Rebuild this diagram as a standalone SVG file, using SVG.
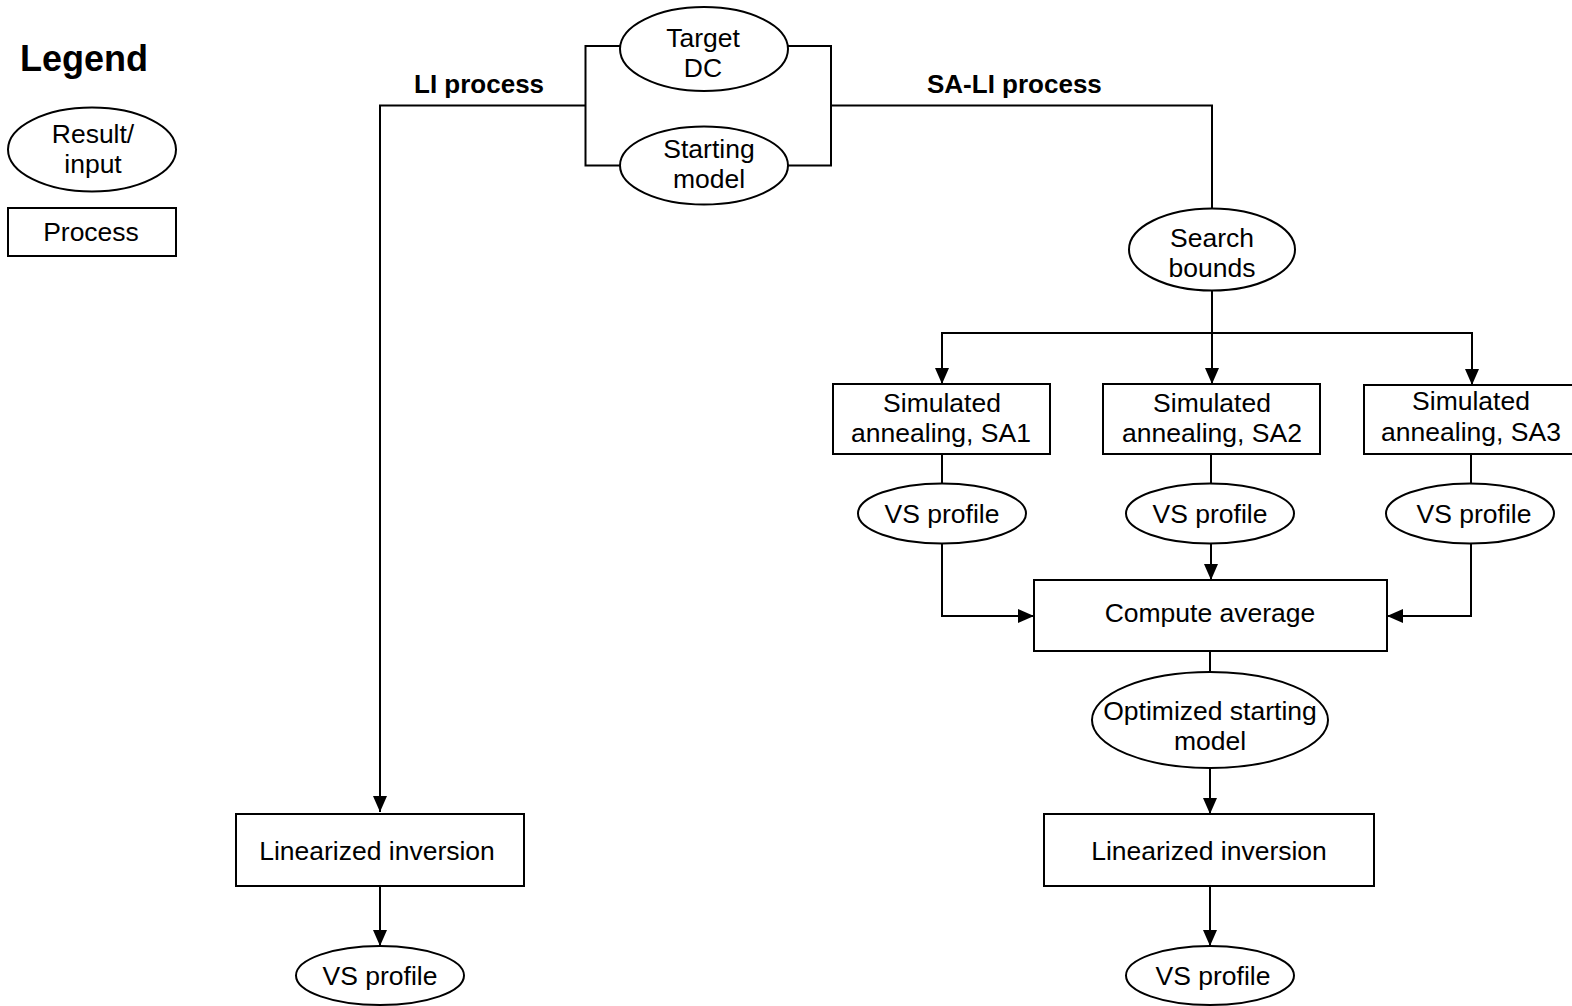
<svg xmlns="http://www.w3.org/2000/svg" width="1572" height="1006" viewBox="0 0 1572 1006">
<style>
.n{fill:#fff;stroke:#000;stroke-width:2}
.t{font-family:"Liberation Sans",Arial,sans-serif;font-size:26.5px;fill:#000;text-anchor:middle}
.b{font-family:"Liberation Sans",Arial,sans-serif;font-size:26px;font-weight:bold;fill:#000}
.c{fill:none;stroke:#000;stroke-width:2}
</style>
<defs>
<marker id="ah" viewBox="0 0 16 14" refX="16" refY="7" markerWidth="16" markerHeight="14" markerUnits="userSpaceOnUse" orient="auto">
<path d="M0,0 L16,7 L0,14 z" fill="#000"/>
</marker>
</defs>
<rect width="1572" height="1006" fill="#fff"/>
<g id="legend">
<text x="20" y="71" font-family="Liberation Sans,Arial,sans-serif" font-size="36" font-weight="bold">Legend</text>
<ellipse class="n" cx="92" cy="149.5" rx="84" ry="42"/>
<text class="t" x="93" y="143">Result/</text>
<text class="t" x="93" y="173">input</text>
<rect class="n" x="8" y="208" width="168" height="48"/>
<text class="t" x="91" y="241">Process</text>
</g>
<g id="labels">
<text class="b" x="414" y="93">LI process</text>
<text class="b" x="927" y="93">SA-LI process</text>
</g>
<g id="connectors">
<path class="c" d="M622,46 H585.5 V165.5 H621"/>
<path class="c" d="M787,46 H831 V165.5 H787"/>
<path class="c" d="M585.5,105.5 H380 V812" marker-end="url(#ah)"/>
<path class="c" d="M831,105.5 H1212 V208.5"/>
<path class="c" d="M1212,291 V384" marker-end="url(#ah)"/>
<path class="c" d="M1212,333 H942 V384" marker-end="url(#ah)"/>
<path class="c" d="M1212,333 H1472 V385" marker-end="url(#ah)"/>
<path class="c" d="M942,454 V483.5"/>
<path class="c" d="M1211,454 V483.5"/>
<path class="c" d="M1471,454 V483.5"/>
<path class="c" d="M942,543.5 V616 H1034" marker-end="url(#ah)"/>
<path class="c" d="M1211,543.5 V580" marker-end="url(#ah)"/>
<path class="c" d="M1471,543.5 V616 H1387" marker-end="url(#ah)"/>
<path class="c" d="M1210,651 V672"/>
<path class="c" d="M1210,768 V814" marker-end="url(#ah)"/>
<path class="c" d="M1210,886 V946" marker-end="url(#ah)"/>
<path class="c" d="M380,886 V946" marker-end="url(#ah)"/>
</g>
<g id="target-dc">
<ellipse class="n" cx="704" cy="49" rx="84" ry="42"/>
<text class="t" x="703" y="47">Target</text>
<text class="t" x="703" y="77">DC</text>
</g>
<g id="starting-model">
<ellipse class="n" cx="704" cy="165.5" rx="84" ry="39"/>
<text class="t" x="709" y="157.5">Starting</text>
<text class="t" x="709" y="187.5">model</text>
</g>
<g id="search-bounds">
<ellipse class="n" cx="1212" cy="249.5" rx="83" ry="41"/>
<text class="t" x="1212" y="246.5">Search</text>
<text class="t" x="1212" y="276.5">bounds</text>
</g>
<g id="sa1">
<rect class="n" x="833" y="384" width="217" height="70"/>
<text class="t" x="942" y="412">Simulated</text>
<text class="t" x="941" y="442">annealing, SA1</text>
</g>
<g id="sa2">
<rect class="n" x="1103" y="384" width="217" height="70"/>
<text class="t" x="1212" y="412">Simulated</text>
<text class="t" x="1212" y="442">annealing, SA2</text>
</g>
<g id="sa3">
<rect class="n" x="1364" y="385" width="214" height="69"/>
<text class="t" x="1471" y="410">Simulated</text>
<text class="t" x="1471" y="441">annealing, SA3</text>
</g>
<g id="vs1">
<ellipse class="n" cx="942" cy="513.5" rx="84" ry="30"/>
<text class="t" x="942" y="522.5">VS profile</text>
</g>
<g id="vs2">
<ellipse class="n" cx="1210" cy="513.5" rx="84" ry="30"/>
<text class="t" x="1210" y="522.5">VS profile</text>
</g>
<g id="vs3">
<ellipse class="n" cx="1470" cy="513.5" rx="84" ry="30"/>
<text class="t" x="1474" y="522.5">VS profile</text>
</g>
<g id="compute-average">
<rect class="n" x="1034" y="580" width="353" height="71"/>
<text class="t" x="1210" y="622">Compute average</text>
</g>
<g id="optimized-starting-model">
<ellipse class="n" cx="1210" cy="720" rx="118" ry="48"/>
<text class="t" x="1210" y="720">Optimized starting</text>
<text class="t" x="1210" y="750">model</text>
</g>
<g id="li-right">
<rect class="n" x="1044" y="814" width="330" height="72"/>
<text class="t" x="1209" y="860">Linearized inversion</text>
</g>
<g id="vs-right">
<ellipse class="n" cx="1210" cy="975.5" rx="84" ry="29.5"/>
<text class="t" x="1213" y="984.5">VS profile</text>
</g>
<g id="li-left">
<rect class="n" x="236" y="814" width="288" height="72"/>
<text class="t" x="377" y="860">Linearized inversion</text>
</g>
<g id="vs-left">
<ellipse class="n" cx="380" cy="975.5" rx="84" ry="29.5"/>
<text class="t" x="380" y="984.5">VS profile</text>
</g>
</svg>
